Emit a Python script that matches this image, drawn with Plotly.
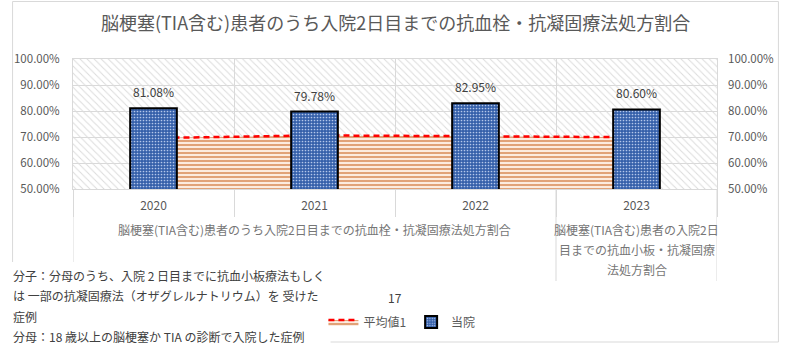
import plotly.graph_objects as go

# ---------------- data ----------------
years = ["2020", "2021", "2022", "2023"]
hospital = [81.08, 79.78, 82.95, 80.60]          # 当院
average = [69.6, 70.6, 70.3, 69.9]               # 平均値1
group_of_year = [0, 0, 0, 1]
group_labels = [
    ["脳梗塞(TIA含む)患者のうち入院2日目までの抗血栓・抗凝固療法処方割合"],
    ["脳梗塞(TIA含む)患者の入院2日", "目までの抗血小板・抗凝固療", "法処方割合"],
]
title_text = "脳梗塞(TIA含む)患者のうち入院2日目までの抗血栓・抗凝固療法処方割合"
note_lines = [
    "分子：分母のうち、入院 2 日目までに抗血小板療法もしく",
    "は 一部の抗凝固療法（オザグレルナトリウム）を 受けた",
    "症例",
    "分母：18 歳以上の脳梗塞か TIA の診断で入院した症例",
]
extra_label = "17"
y_min, y_max, y_step = 50, 100, 10

# ---------------- layout geometry ----------------
W, H = 786, 364
L, R, T, B = 73, 63, 59, 175
PW, PH = W - L - R, H - T - B
FONT = "Noto Sans CJK JP"


def px_x(p):
    return (p - L) / PW


def px_y(p):
    return (H - B - p) / PH


xs = list(range(len(years)))

fig = go.Figure()

# background hatch of the plot area
fig.add_trace(go.Bar(
    x=xs, y=[y_max - y_min] * len(xs), base=[y_min] * len(xs), width=1,
    marker=dict(color="rgba(0,0,0,0)", line=dict(width=0),
                pattern=dict(shape="\\", size=5, solidity=0.2,
                             fgcolor="#DCDCDC", bgcolor="rgba(0,0,0,0)",
                             fillmode="replace")),
    showlegend=False, hoverinfo="skip", yaxis="y"))

# average area
fig.add_trace(go.Scatter(
    x=xs, y=average, name="平均値1", mode="lines", fill="tozeroy",
    line=dict(color="#FF0000", width=2.5, dash="6px,4px"),
    fillpattern=dict(shape="-", fgcolor="#C55A11", bgcolor="#FCEBDF",
                     size=4, solidity=0.5),
    yaxis="y"))

# hospital bars
fig.add_trace(go.Bar(
    x=xs, y=hospital, name="当院", width=0.29,
    marker=dict(color="#3A62AC", line=dict(color="#000000", width=2),
                pattern=dict(shape=".", fgcolor="#B4C7EA", bgcolor="#3560AA",
                             size=3, solidity=0.25, fillmode="replace")),
    yaxis="y2"))

annotations = []
for i, v in enumerate(hospital):
    annotations.append(dict(x=xs[i], y=v, xref="x", yref="y2", text=f"{v:.2f}%",
                            showarrow=False, yanchor="bottom", yshift=6,
                            font=dict(family=FONT, size=12, color="#404040")))

# group labels
n = len(years)
for g, lines in enumerate(group_labels):
    members = [i for i in range(n) if group_of_year[i] == g]
    cx = (members[0] + members[-1]) / 2
    for k, line in enumerate(lines):
        annotations.append(dict(x=cx, y=px_y(229 + 20 * k), xref="x", yref="paper",
                                text=line, showarrow=False, yanchor="middle",
                                font=dict(family=FONT, size=12, color="#767676")))

# title
annotations.append(dict(x=px_x(W / 2 + 5), y=px_y(22), xref="paper", yref="paper",
                        text=title_text, showarrow=False, yanchor="middle",
                        font=dict(family=FONT, size=18, color="#595959")))
# stray label
annotations.append(dict(x=px_x(398), y=px_y(297), xref="paper", yref="paper",
                        text=extra_label, showarrow=False, yanchor="middle",
                        font=dict(family=FONT, size=12, color="#404040")))
# note text
for k, line in enumerate(note_lines):
    annotations.append(dict(x=px_x(10), y=px_y(275 + 20.5 * k), xref="paper", yref="paper",
                            text=line, showarrow=False, xanchor="left", yanchor="middle",
                            font=dict(family=FONT, size=12, color="#404040")))

shapes = []
# outer chart border
shapes.append(dict(type="rect", xref="paper", yref="paper",
                   x0=px_x(12), x1=px_x(785), y0=px_y(342), y1=px_y(1.5),
                   line=dict(color="#D9D9D9", width=1), fillcolor="rgba(0,0,0,0)",
                   layer="below"))
# group dividers
bounds = sorted({-0.5, n - 0.5} | {i + 0.5 for i in range(n - 1)
                                   if group_of_year[i] != group_of_year[i + 1]})
for b in bounds:
    shapes.append(dict(type="line", xref="x", yref="paper", x0=b, x1=b,
                       y0=0, y1=px_y(281), line=dict(color="#D9D9D9", width=1)))
# white note box
shapes.append(dict(type="rect", xref="paper", yref="paper",
                   x0=px_x(0), x1=px_x(333), y0=px_y(364), y1=px_y(262),
                   line=dict(width=0), fillcolor="#FFFFFF"))

fig.update_layout(
    width=W, height=H, autosize=False,
    margin=dict(l=L, r=R, t=T, b=B),
    paper_bgcolor="#FFFFFF", plot_bgcolor="#FFFFFF",
    barmode="overlay",
    font=dict(family=FONT, size=12, color="#595959"),
    xaxis=dict(range=[-0.5, n - 0.5], tickvals=xs, ticktext=years,
               showgrid=False, zeroline=False, ticks="",
               showline=True, linecolor="#D9D9D9", mirror=True,
               tickfont=dict(family=FONT, size=12, color="#595959"),
               ticklabelstandoff=6,
               minor=dict(tickvals=[i + 0.5 for i in range(-1, n)], showgrid=True,
                          gridcolor="#D9D9D9", ticks="outside", ticklen=27,
                          tickcolor="#D9D9D9", tickwidth=1)),
    yaxis=dict(range=[y_min, y_max], dtick=y_step, tickformat=".2f", ticksuffix="%",
               showgrid=True, gridcolor="#D9D9D9", zeroline=False,
               showline=True, linecolor="#D9D9D9", mirror=True,
               ticklabelstandoff=10,
               tickfont=dict(family=FONT, size=11.5, color="#595959")),
    yaxis2=dict(range=[y_min, y_max], dtick=y_step, tickformat=".2f", ticksuffix="%",
                overlaying="y", side="right", showgrid=False, zeroline=False,
                ticklabelstandoff=10,
                tickfont=dict(family=FONT, size=11.5, color="#595959")),
    legend=dict(orientation="h", x=px_x(405), xanchor="center", y=px_y(322), yanchor="middle",
                font=dict(family=FONT, size=12, color="#595959"),
                bgcolor="rgba(0,0,0,0)", itemwidth=30),
    annotations=annotations,
    shapes=shapes,
    showlegend=True,
)

fig.write_html("out.html", config={"displayModeBar": False},
               post_script="document.body.style.margin='0';document.body.style.overflow='hidden';")
